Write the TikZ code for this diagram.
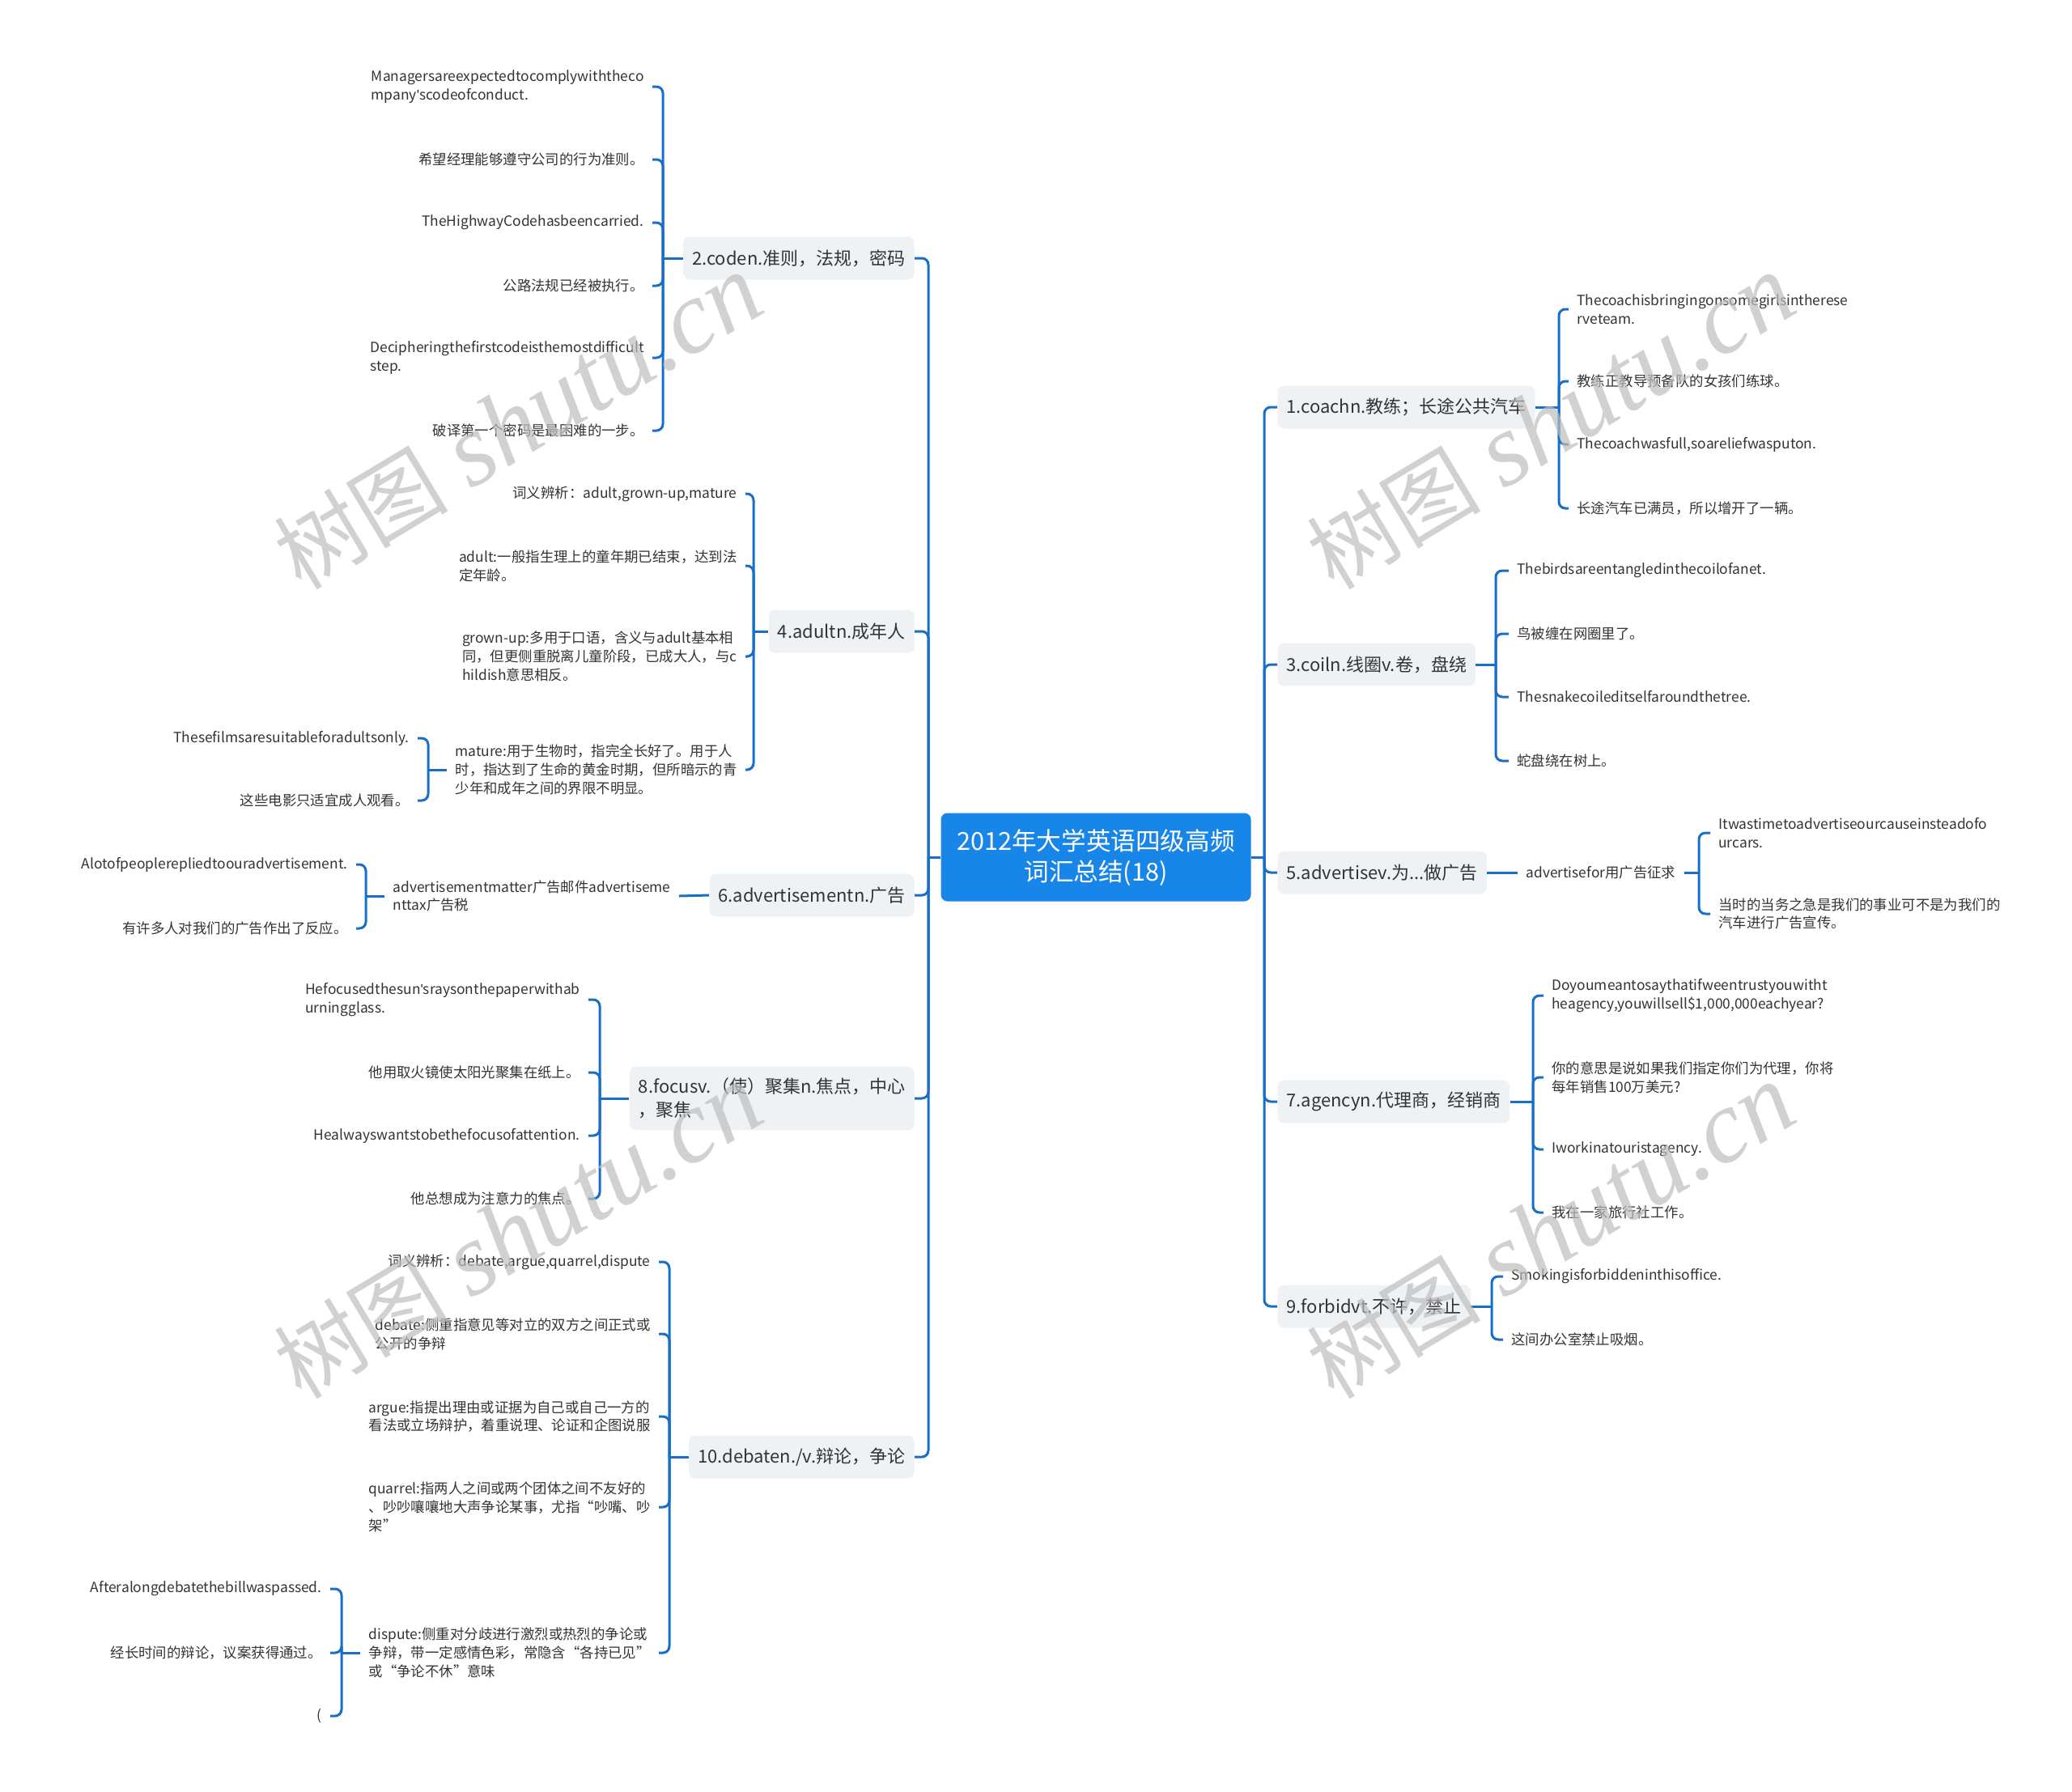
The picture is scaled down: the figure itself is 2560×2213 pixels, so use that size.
\documentclass[tikz,border=0pt]{standalone}
\usepackage{fontspec}
\setmainfont{Noto Sans CJK SC}
\newfontfamily\markserif{Liberation Serif}
\newfontfamily\aposfont{Liberation Sans}
\newcommand\ap{{\aposfont\char"27}}
\definecolor{rootblue}{RGB}{24,133,232}
\definecolor{linkblue}{RGB}{25,110,200}
\definecolor{topicgray}{RGB}{239,242,245}
\definecolor{inkgray}{RGB}{51,51,51}
\definecolor{markgray}{RGB}{190,190,190}

\begin{document}
\begin{tikzpicture}[x=0.5pt,y=-0.5pt,
        root/.style={fill=rootblue,rounded corners=4pt,text=white,align=center,
            font=\fontsize{15.3}{19}\selectfont,minimum width=191.5pt,minimum height=54.5pt},
        topic/.style={fill=topicgray,rounded corners=4pt,text=inkgray,align=left,
            font=\fontsize{11}{14.7}\selectfont,inner xsep=5.5pt,inner ysep=7pt,minimum height=26.5pt},
        leaf/.style={text=inkgray,align=left,font=\fontsize{8.7}{11.4}\selectfont,
            inner xsep=5pt,inner ysep=1pt},
        link/.style={draw=linkblue,line width=1.5pt,rounded corners=4pt},
        wmark/.style={text=markgray,opacity=0.7,rotate=31,inner sep=0pt}]
                \useasboundingbox (0,0) rectangle (2560,2213);

                \node[root] (root) at (1354,1059) {2012年大学英语四级高频\\词汇总结(18)};
                \coordinate (rt) at (1562,1059);
                \coordinate (lt) at (1147,1059);

                \node[topic,anchor=west] (c1) at (1578,503) {1.coachn.教练；长途公共汽车};
                \node[topic,anchor=west] (c3) at (1578,821) {3.coiln.线圈v.卷，盘绕};
                \node[topic,anchor=west] (c5) at (1578,1078) {5.advertisev.为...做广告};
                \node[topic,anchor=west] (c7) at (1578,1361) {7.agencyn.代理商，经销商};
                \node[topic,anchor=west] (c9) at (1578,1614) {9.forbidvt.不许，禁止};
                \node[topic,anchor=east] (c2) at (1130,319) {2.coden.准则，法规，密码};
                \node[topic,anchor=east] (c4) at (1130,780) {4.adultn.成年人};
                \node[topic,anchor=east] (c6) at (1130,1106) {6.advertisementn.广告};
                \node[topic,anchor=east] (c8) at (1130,1357) {8.focusv.（使）聚集n.焦点，中心\\，聚焦};
                \node[topic,anchor=east] (c10) at (1130,1800) {10.debaten./v.辩论，争论};

                \draw[link] (root.east) -- (rt);
                \draw[link] (root.west) -- (lt);
                \foreach \n in {c1,c3,c5,c7,c9} \draw[link] (rt) |- (\n.west);
                \foreach \n in {c2,c4,c6,c8,c10} \draw[link] (lt) |- (\n.east);

                \node[leaf,anchor=west] (l1a) at (1938,382) {Thecoachisbringingonsomegirlsintherese\\rveteam.};
                \node[leaf,anchor=west] (l1b) at (1938,471) {教练正教导预备队的女孩们练球。};
                \node[leaf,anchor=west] (l1c) at (1938,549) {Thecoachwasfull,soareliefwasputon.};
                \node[leaf,anchor=west] (l1d) at (1938,628) {长途汽车已满员，所以增开了一辆。};
                \coordinate (b1) at (1926,503);
                \draw[link] (c1.east) -- (b1);
                \foreach \n in {l1a,l1b,l1c,l1d} \draw[link] (b1) |- (\n.west);

                \node[leaf,anchor=west] (l3a) at (1864,705) {Thebirdsareentangledinthecoilofanet.};
                \node[leaf,anchor=west] (l3b) at (1864,783) {鸟被缠在网圈里了。};
                \node[leaf,anchor=west] (l3c) at (1864,861) {Thesnakecoileditselfaroundthetree.};
                \node[leaf,anchor=west] (l3d) at (1864,940) {蛇盘绕在树上。};
                \coordinate (b3) at (1848,821);
                \draw[link] (c3.east) -- (b3);
                \foreach \n in {l3a,l3b,l3c,l3d} \draw[link] (b3) |- (\n.west);

                \node[leaf,anchor=west] (a5) at (1875,1078) {advertisefor用广告征求};
                \draw[link] (c5.east) -- (a5.west);
                \node[leaf,anchor=west] (l5a) at (2113,1029) {Itwastimetoadvertiseourcauseinsteadofo\\urcars.};
                \node[leaf,anchor=west] (l5b) at (2113,1129) {当时的当务之急是我们的事业可不是为我们的\\汽车进行广告宣传。};
                \coordinate (b5) at (2099,1078);
                \draw[link] (a5.east) -- (b5);
                \foreach \n in {l5a,l5b} \draw[link] (b5) |- (\n.west);

                \node[leaf,anchor=west] (l7a) at (1907,1230) {Doyoumeantosaythatifweentrustyouwitht\\heagency,youwillsell\$1,000,000eachyear?};
                \node[leaf,anchor=west] (l7b) at (1907,1331) {你的意思是说如果我们指定你们为代理，你将\\每年销售100万美元?};
                \node[leaf,anchor=west] (l7c) at (1907,1420) {Iworkinatouristagency.};
                \node[leaf,anchor=west] (l7d) at (1907,1498) {我在一家旅行社工作。};
                \coordinate (b7) at (1894,1361);
                \draw[link] (c7.east) -- (b7);
                \foreach \n in {l7a,l7b,l7c,l7d} \draw[link] (b7) |- (\n.west);

                \node[leaf,anchor=west] (l9a) at (1857,1577) {Smokingisforbiddeninthisoffice.};
                \node[leaf,anchor=west] (l9b) at (1857,1655) {这间办公室禁止吸烟。};
                \coordinate (b9) at (1843,1614);
                \draw[link] (c9.east) -- (b9);
                \foreach \n in {l9a,l9b} \draw[link] (b9) |- (\n.west);

                \node[leaf,anchor=east] (l2a) at (806,107) {Managersareexpectedtocomplywiththeco\\mpany\ap scodeofconduct.};
                \node[leaf,anchor=east] (l2b) at (806,197) {希望经理能够遵守公司的行为准则。};
                \node[leaf,anchor=east] (l2c) at (806,275) {TheHighwayCodehasbeencarried.};
                \node[leaf,anchor=east] (l2d) at (806,353) {公路法规已经被执行。};
                \node[leaf,anchor=east] (l2e) at (806,442) {Decipheringthefirstcodeisthemostdifficult\\step.};
                \node[leaf,anchor=east] (l2f) at (806,532) {破译第一个密码是最困难的一步。};
                \coordinate (b2) at (819,319);
                \draw[link] (c2.west) -- (b2);
                \foreach \n in {l2a,l2b,l2c,l2d,l2e,l2f} \draw[link] (b2) |- (\n.east);

                \node[leaf,anchor=east] (l4a) at (921,610) {词义辨析：adult,grown-up,mature};
                \node[leaf,anchor=east] (l4b) at (921,699) {adult:一般指生理上的童年期已结束，达到法\\定年龄。};
                \node[leaf,anchor=east] (l4c) at (921,811) {grown-up:多用于口语，含义与adult基本相\\同，但更侧重脱离儿童阶段，已成大人，与c\\hildish意思相反。};
                \node[leaf,anchor=east] (l4d) at (921,951) {mature:用于生物时，指完全长好了。用于人\\时，指达到了生命的黄金时期，但所暗示的青\\少年和成年之间的界限不明显。};
                \coordinate (b4) at (931,780);
                \draw[link] (c4.west) -- (b4);
                \foreach \n in {l4a,l4b,l4c,l4d} \draw[link] (b4) |- (\n.east);

                \node[leaf,anchor=east] (m4a) at (516,912) {Thesefilmsaresuitableforadultsonly.};
                \node[leaf,anchor=east] (m4b) at (516,989) {这些电影只适宜成人观看。};
                \coordinate (d4) at (529,951);
                \draw[link] (l4d.west) -- (d4);
                \foreach \n in {m4a,m4b} \draw[link] (d4) |- (\n.east);

                \node[leaf,anchor=east] (a6) at (839,1107) {advertisementmatter广告邮件advertiseme\\nttax广告税};
                \draw[link] (c6.west) -- (a6.east);
                \node[leaf,anchor=east] (l6a) at (440,1068) {Alotofpeoplerepliedtoouradvertisement.};
                \node[leaf,anchor=east] (l6b) at (440,1147) {有许多人对我们的广告作出了反应。};
                \coordinate (b6) at (452,1107);
                \draw[link] (a6.west) -- (b6);
                \foreach \n in {l6a,l6b} \draw[link] (b6) |- (\n.east);

                \node[leaf,anchor=east] (l8a) at (727,1235) {Hefocusedthesun\ap sraysonthepaperwithab\\urningglass.};
                \node[leaf,anchor=east] (l8b) at (727,1325) {他用取火镜使太阳光聚集在纸上。};
                \node[leaf,anchor=east] (l8c) at (727,1403) {Healwayswantstobethefocusofattention.};
                \node[leaf,anchor=east] (l8d) at (727,1481) {他总想成为注意力的焦点。};
                \coordinate (b8) at (741,1357);
                \draw[link] (c8.west) -- (b8);
                \foreach \n in {l8a,l8b,l8c,l8d} \draw[link] (b8) |- (\n.east);

                \node[leaf,anchor=east] (l10a) at (814,1559) {词义辨析：debate,argue,quarrel,dispute};
                \node[leaf,anchor=east] (l10b) at (814,1648) {debate:侧重指意见等对立的双方之间正式或\\公开的争辩};
                \node[leaf,anchor=east] (l10c) at (814,1750) {argue:指提出理由或证据为自己或自己一方的\\看法或立场辩护，着重说理、论证和企图说服};
                \node[leaf,anchor=east] (l10d) at (814,1862) {quarrel:指两人之间或两个团体之间不友好的\\、吵吵嚷嚷地大声争论某事，尤指“吵嘴、吵\\架”};
                \node[leaf,anchor=east] (l10e) at (814,2042) {dispute:侧重对分歧进行激烈或热烈的争论或\\争辩，带一定感情色彩，常隐含“各持已见”\\或“争论不休”意味};
                \coordinate (b10) at (827,1800);
                \draw[link] (c10.west) -- (b10);
                \foreach \n in {l10a,l10b,l10c,l10d,l10e} \draw[link] (b10) |- (\n.east);

                \node[leaf,anchor=east] (m10a) at (408,1963) {Afteralongdebatethebillwaspassed.};
                \node[leaf,anchor=east] (m10b) at (408,2042) {经长时间的辩论，议案获得通过。};
                \node[leaf,anchor=east] (m10c) at (408,2120) {(};
                \coordinate (d10) at (422,2042);
                \draw[link] (l10e.west) -- (d10);
                \foreach \n in {m10a,m10b,m10c} \draw[link] (d10) |- (\n.east);

                \node[wmark] (w1) at (640,522) {{\fontsize{54}{54}\selectfont 树图}\hspace{14pt}{\markserif\itshape\fontsize{64}{64}\selectfont shutu.cn}};
                \node[wmark] (w2) at (1916,522) {{\fontsize{54}{54}\selectfont 树图}\hspace{14pt}{\markserif\itshape\fontsize{64}{64}\selectfont shutu.cn}};
                \node[wmark] (w3) at (640,1522) {{\fontsize{54}{54}\selectfont 树图}\hspace{14pt}{\markserif\itshape\fontsize{64}{64}\selectfont shutu.cn}};
                \node[wmark] (w4) at (1916,1522) {{\fontsize{54}{54}\selectfont 树图}\hspace{14pt}{\markserif\itshape\fontsize{64}{64}\selectfont shutu.cn}};
\end{tikzpicture}
\end{document}
